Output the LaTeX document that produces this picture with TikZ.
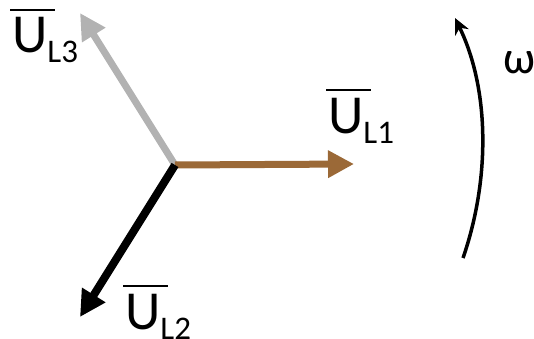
\documentclass[tikz,border=0pt]{standalone}
\usepackage{fontspec}
\setmainfont{Carlito}
\usetikzlibrary{arrows.meta}
\definecolor{vbrown}{RGB}{155,105,55}
\definecolor{vgray}{RGB}{178,178,178}
\newcommand\barU{\vbox{\offinterlineskip\hbox to 0pt{\kern-2pt\vrule height 2pt depth 0pt width 45pt\hss}\kern 7pt\hbox{U}}}
\newcommand\phlabel[1]{\fontsize{55pt}{55pt}\selectfont\barU\fontsize{33pt}{33pt}\selectfont\raisebox{-10pt}{#1}}
\tikzset{
  lbl/.style={anchor=base west, inner sep=0pt, text=black},
  phasor/.style={line width=#1, -{Triangle[length=26pt,width=26pt]}},
}
\begin{document}
\begin{tikzpicture}[x=1pt,y=-1pt]
\useasboundingbox (0,0) rectangle (534,339);
\coordinate (O) at (175,165);
\coordinate (t1) at (354,164);
\coordinate (t2) at (80,317);
\coordinate (t3) at (80,13);
\draw[phasor=7pt, vgray] (O) -- (t3);
\draw[phasor=7pt, vbrown] (O) -- (t1);
\draw[phasor=8pt, black] (O) -- (t2);
\node[lbl] (l3) at (12,53) {\phlabel{L3}};
\node[lbl] (l1) at (328,133) {\phlabel{L1}};
\node[lbl] (l2) at (125,329) {\phlabel{L2}};
\coordinate (wa) at (463,258);
\coordinate (wb) at (455,18);
\draw[line width=3.5pt, -{Stealth[length=16pt,width=15pt]}] (wa) .. controls (490,180) and (490,90) .. (wb);
\node[lbl] (w) at (503,74) {\fontsize{46pt}{46pt}\selectfont ω};
\end{tikzpicture}
\end{document}
